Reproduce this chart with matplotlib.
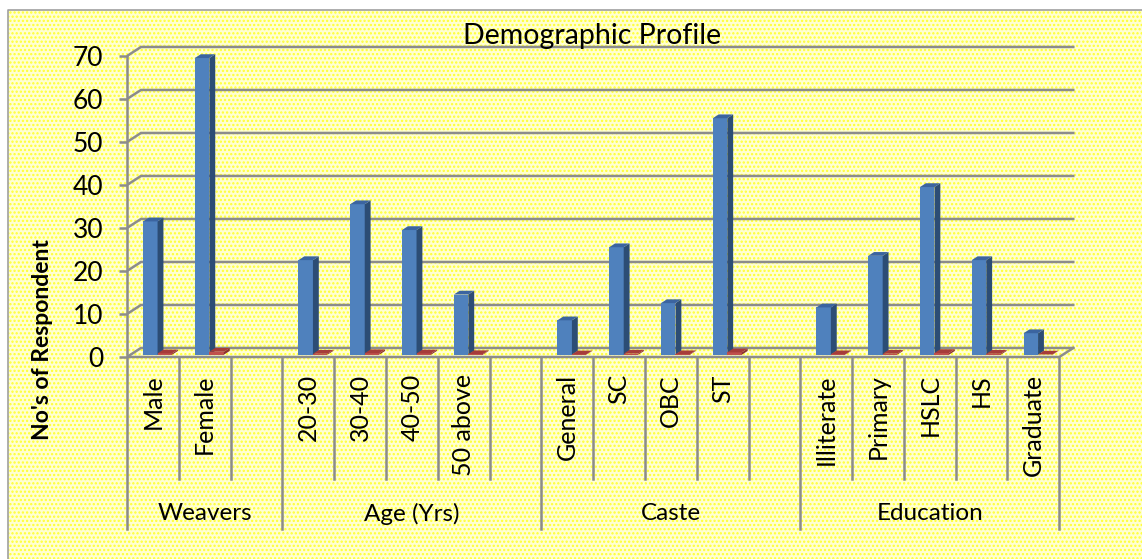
import numpy as np
import matplotlib
matplotlib.use("Agg")
import matplotlib.pyplot as plt
from matplotlib.patches import Polygon, Rectangle

plt.rcParams['font.family'] = ['Lato', 'DejaVu Sans']
plt.rcParams['hatch.linewidth'] = 1.1

# slot labels (empty strings are the gaps between groups)
categories = ['Male', 'Female', '',
              '20-30', '30-40', '40-50', '50 above', '',
              'General', 'SC', 'OBC', 'ST', '',
              'Illiterate', 'Primary', 'HSLC', 'HS', 'Graduate']
groups = ['Weavers', 'Age (Yrs)', 'Caste', 'Education']
group_sizes = [3, 5, 5, 5]

# number of respondents (blue) and share (red, almost flat)
respondents = [31, 69, np.nan, 22, 35, 29, 14, np.nan,
               8, 25, 12, 55, np.nan, 11, 23, 39, 22, 5]
share = [0.31, 0.69, np.nan, 0.22, 0.35, 0.29, 0.14, np.nan,
         0.08, 0.25, 0.12, 0.55, np.nan, 0.11, 0.23, 0.39, 0.22, 0.05]
yticks = [0, 10, 20, 30, 40, 50, 60, 70]

n = len(categories)
DX, DY = 0.27, 2.1          # back-wall offset (slot units, value units)
grid_c = '#8C8C8C'

fig = plt.figure(figsize=(11.42, 5.59), dpi=100)
fig.patch.set_facecolor('white')
bg = Rectangle((8 / 1142, 0), 1, 1 - 10 / 559, transform=fig.transFigure,
               facecolor='#FFFFD2', edgecolor='#FFFF30', hatch='....',
               linewidth=0, zorder=-10)
fig.patches.append(bg)
fig.add_artist(plt.Line2D([8 / 1142, 8 / 1142, 1], [0, 1 - 10 / 559, 1 - 10 / 559],
                          transform=fig.transFigure, color='#A0A0A0', lw=1.2))

ax = fig.add_axes([127 / 1142, 0.046, 953 / 1142, 0.8769])
ax.set_facecolor('none')
ax.set_xlim(0, n + 0.4)
ax.set_ylim(-41, 73)
for s in ['top', 'right', 'bottom']:
    ax.spines[s].set_visible(False)
ax.spines['left'].set_bounds(-40, 70)
ax.spines['left'].set_color(grid_c)
ax.spines['left'].set_linewidth(1.8)
ax.set_xticks([])
ax.set_yticks(yticks)
ax.tick_params(axis='y', length=6, width=1.8, color=grid_c, pad=11, labelsize=19)

# back wall gridlines with slanted side wall connectors
for v in yticks:
    ax.plot([0, DX, n + DX], [v, v + DY, v + DY], color=grid_c, lw=1.8, zorder=1,
            solid_joinstyle='miter')
# floor edges
ax.plot([0, n, n + DX], [0, 0, DY], color=grid_c, lw=1.8, zorder=1)

# 3D-looking columns
f, d = 0.25, 0.42
b0 = f * DY
ddx, ddy = d * DX, d * DY
w = 0.28
series = [(respondents, 0.31, '#4F81BD', '#2C4D75', '#3B64A0'),
          (share, 0.31 + w, '#C0504D', '#8C3130', '#A63C3A')]
for k in range(n):
    for vals, off, cf, cs, ct in series:
        v = vals[k]
        if np.isnan(v):
            continue
        x0 = k + off
        x1 = x0 + w
        ax.bar(x0, v, width=w, bottom=b0, align='edge', color=cf, zorder=3,
               linewidth=0)
        ax.add_patch(Polygon([(x1, b0), (x1 + ddx, b0 + ddy), (x1 + ddx, b0 + v + ddy),
                              (x1, b0 + v)], closed=True, color=cs, lw=0, zorder=3))
        ax.add_patch(Polygon([(x0, b0 + v), (x0 + ddx, b0 + v + ddy),
                              (x1 + ddx, b0 + v + ddy), (x1, b0 + v)],
                             closed=True, color=ct, lw=0, zorder=3))

# category labels and dividers under the floor
for k, lab in enumerate(categories):
    ax.text(k + 0.5, -4.0, lab, rotation=90, ha='center', va='top',
            fontsize=18, clip_on=False)
bounds = np.cumsum([0] + group_sizes)
for k in range(1, n + 1):
    low = -40 if k in bounds else -28.3
    ax.plot([k, k], [0, low], color=grid_c, lw=1.8, clip_on=False, zorder=1)
for g, a, b in zip(groups, bounds[:-1], bounds[1:]):
    ax.text((a + b) / 2, -36.5, g, ha='center', va='center', fontsize=17.5,
            clip_on=False)

fig.text(592 / 1142, 1 - 36 / 559, 'Demographic Profile', ha='center', va='center',
         fontsize=20.5)
fig.text(43 / 1142, 1 - 340 / 559, "No's of Respondent", rotation=90, ha='center',
         va='center', fontsize=16.5, fontweight='bold')

fig.savefig('out.png', dpi=100)
